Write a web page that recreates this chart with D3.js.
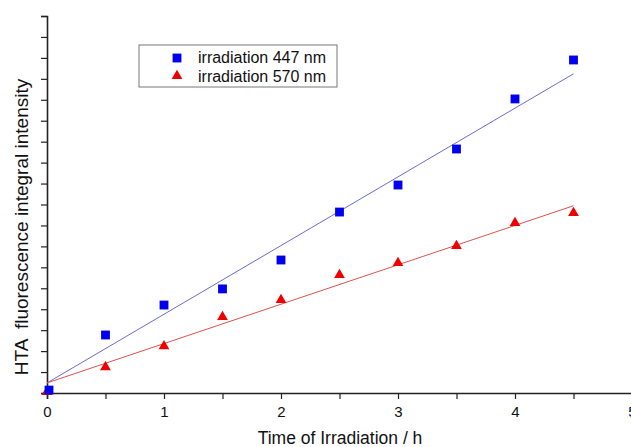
<!DOCTYPE html>
<html>
<head>
<meta charset="utf-8">
<script src="https://cdn.jsdelivr.net/npm/d3@7"></script>
<style>
  body { margin: 0; background: #fff; }
  svg { display: block; font-family: "Liberation Sans", Arial, sans-serif; }
</style>
</head>
<body>
<svg id="chart" width="631" height="447"></svg>
<script>
// data (y in arbitrary units, no labels on y axis)
var times = [0, 0.5, 1, 1.5, 2, 2.5, 3, 3.5, 4, 4.5];
var blue447 = [0.14, 2.77, 4.20, 4.97, 6.35, 8.64, 9.93, 11.65, 14.04, 15.90];
var red570 = [0.05, 1.24, 2.24, 3.63, 4.44, 5.64, 6.21, 7.02, 8.12, 8.60];
// linear fits [intercept, slope]
var fit447 = [0.48, 3.28];
var fit570 = [0.48, 1.88];
var xTicks = [0, 1, 2, 3, 4, 5];
var seriesNames = ['irradiation 447 nm', 'irradiation 570 nm'];

var svg = d3.select('#chart');
var margin = {top: 16, right: 0, bottom: 54, left: 47};
var height = 447;

var xScale = d3.scaleLinear().domain([0, 5]).range([margin.left, 632]);
var yScale = d3.scaleLinear().domain([0, 18]).range([height - margin.bottom, margin.top]);

// x axis
var xAxis = d3.axisBottom(xScale)
  .tickValues(d3.range(0, 5.01, 0.5))
  .tickSizeOuter(0)
  .tickSize(6)
  .tickFormat(function(d){ return xTicks.indexOf(d) >= 0 ? d : ''; });

var gx = svg.append('g')
  .attr('transform', `translate(0, ${yScale(0)})`)
  .call(xAxis);
gx.select('.domain').attr('stroke', '#222').attr('stroke-width', 1.6);
gx.selectAll('.tick line').attr('stroke', '#222').attr('stroke-width', 1.2);
gx.selectAll('.tick text')
  .attr('fill', '#111')
  .attr('font-size', 15)
  .attr('dy', '1.03em');

// y axis (no labels)
var yAxis = d3.axisLeft(yScale)
  .tickValues(d3.range(0, 18.01, 1))
  .tickSizeOuter(0)
  .tickSize(6)
  .tickFormat('');

var gy = svg.append('g')
  .attr('transform', `translate(${margin.left}, 0)`)
  .call(yAxis);
gy.select('.domain').attr('stroke', '#222').attr('stroke-width', 1.6);
gy.selectAll('.tick line').attr('stroke', '#222').attr('stroke-width', 1.2);

// axis labels
svg.append('text')
  .attr('x', 340)
  .attr('y', 444)
  .attr('text-anchor', 'middle')
  .attr('font-size', 17.5)
  .attr('fill', '#111')
  .text('Time of Irradiation / h');

svg.append('text')
  .attr('transform', `translate(28, ${227}) rotate(-90)`)
  .attr('text-anchor', 'middle')
  .attr('font-size', 19)
  .attr('fill', '#111')
  .attr('xml:space', 'preserve')
  .style('white-space', 'pre')
  .text('HTA  fluorescence integral intensity');

// fit lines
function fitLine(fit){
  return d3.line()
    .x(function(d){ return xScale(d); })
    .y(function(d){ return yScale(fit[0] + fit[1] * d); });
}
var fitRange = [0, 4.5];

svg.append('path')
  .datum(fitRange)
  .attr('fill', 'none')
  .attr('stroke', '#6b6bd6')
  .attr('stroke-width', 1)
  .attr('d', fitLine(fit447));

svg.append('path')
  .datum(fitRange)
  .attr('fill', 'none')
  .attr('stroke', '#e05050')
  .attr('stroke-width', 1)
  .attr('d', fitLine(fit570));

var square = d3.symbol().type(d3.symbolSquare).size(78);
var triangle = d3.symbol().type(d3.symbolTriangle).size(50);

// red triangles
svg.append('g').selectAll('path')
  .data(red570)
  .enter().append('path')
  .attr('d', triangle)
  .attr('fill', '#ee0000')
  .attr('transform', function(d, i){ return `translate(${xScale(times[i])}, ${yScale(d)})`; });

// blue squares
svg.append('g').selectAll('path')
  .data(blue447)
  .enter().append('path')
  .attr('d', square)
  .attr('fill', '#0000ee')
  .attr('transform', function(d, i){ return `translate(${xScale(times[i]) + (i === 0 ? 2 : 0)}, ${yScale(d)})`; });

// legend
var legend = svg.append('g').attr('transform', 'translate(139, 45)');
legend.append('rect')
  .attr('width', 198)
  .attr('height', 42)
  .attr('fill', '#fff')
  .attr('stroke', '#777')
  .attr('stroke-width', 1);
legend.append('path')
  .attr('d', square)
  .attr('fill', '#0000ee')
  .attr('transform', 'translate(38, 13)');
legend.append('path')
  .attr('d', triangle)
  .attr('fill', '#ee0000')
  .attr('transform', 'translate(38, 31)');
legend.selectAll('text.lbl')
  .data(seriesNames)
  .enter().append('text')
  .attr('class', 'lbl')
  .attr('x', 59)
  .attr('y', function(d, i){ return 18 + i * 19; })
  .attr('font-size', 16)
  .attr('fill', '#111')
  .text(function(d){ return d; });
</script>
</body>
</html>
